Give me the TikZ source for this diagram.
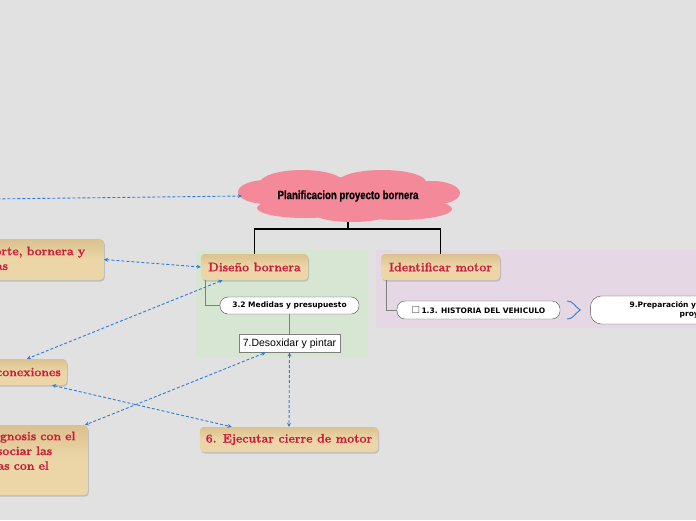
\documentclass[tikz,border=0pt]{standalone}
\usepackage{fontspec}
\usepackage{tikz}
\usetikzlibrary{shapes.geometric,arrows.meta,positioning,shadows}
\newfontfamily\topicfont{Latin Modern Roman}[BoldFeatures={FakeBold=0.8}]
\newfontfamily\cloudfont[FakeStretch=0.8,BoldFeatures={FakeBold=0.6}]{Liberation Sans}
\newfontfamily\pillfont{DejaVu Sans}
\newfontfamily\leaffont{Liberation Sans}
\definecolor{canvas}{HTML}{E1E1E1}
\definecolor{cloudpink}{HTML}{F4899A}
\definecolor{greenzone}{HTML}{D7E5D3}
\definecolor{purplezone}{HTML}{E6D7E5}
\definecolor{tanfill}{HTML}{ECD6A8}
\definecolor{tantop}{HTML}{DCC18E}
\definecolor{crimson}{HTML}{C81E3C}
\definecolor{linkblue}{HTML}{2A7DD9}
\definecolor{branchgray}{HTML}{7F7F7F}
\definecolor{pillborder}{HTML}{4D4D4D}

\begin{document}
\begin{tikzpicture}[x=1pt,y=-1pt,
  topic/.style={rounded corners=4pt,top color=tantop,bottom color=tanfill,middle color=tanfill,text=crimson,font=\topicfont\fontsize{12.3}{14.8}\selectfont\bfseries,minimum height=26pt,inner xsep=6pt,drop shadow={shadow xshift=1pt,shadow yshift=-1.5pt,opacity=.35}},
  pill/.style={draw=pillborder,fill=white,rounded corners=8pt,font=\pillfont\bfseries\fontsize{7.5}{9.5}\selectfont,minimum height=17pt,align=center},
  leaf/.style={draw=branchgray,fill=white,font=\leaffont\fontsize{10.5}{12}\selectfont,minimum height=18pt,inner sep=3pt},
  puff/.style={fill=cloudpink},
  tree/.style={line width=1.2pt,black},
  branch/.style={line width=.8pt,branchgray},
  link/.style={{Stealth[length=4pt,width=4pt]}-{Stealth[length=4pt,width=4pt]},linkblue,dash pattern=on 3pt off 2pt,line width=.9pt}]
\useasboundingbox (0,0) rectangle (696,520);
\clip (0,0) rectangle (696,520);
\fill[canvas] (0,0) rectangle (696,520);
\fill[greenzone] (196,250) rectangle (368,357);
\fill[purplezone] (376,250) rectangle (700,328);

% central topic
\fill[puff] (266,192) ellipse [x radius=28,y radius=12];
\fill[puff] (302,183) ellipse [x radius=42,y radius=13];
\fill[puff] (382,182) ellipse [x radius=44,y radius=12];
\fill[puff] (432,193) ellipse [x radius=28,y radius=12];
\fill[puff] (305,208) ellipse [x radius=48,y radius=10];
\fill[puff] (398,209) ellipse [x radius=54,y radius=11];
\fill[puff] (350,196) ellipse [x radius=96,y radius=19];
\fill[puff] (352,212) ellipse [x radius=40,y radius=10];
\node[ellipse,minimum width=220pt,minimum height=52pt,inner sep=0pt,font=\cloudfont\bfseries\fontsize{12}{14}\selectfont] (root) at (348,196) {Planificacion proyecto bornera};
\coordinate (fork) at (348,229);

% main branches
\node[topic,minimum width=107pt] (diseno) at (254.5,267) {Diseño bornera};
\node[topic,minimum width=119pt] (identificar) at (440.5,267) {Identificar motor};
\node[pill,minimum width=139pt] (medidas) at (289.5,305.5) {3.2 Medidas y presupuesto};
\node[leaf,minimum width=101pt,below=20pt of medidas] (desoxidar) {7.Desoxidar y pintar};
\node[pill,minimum width=163pt,minimum height=18pt] (historia) at (478.5,310) {{\fontsize{9.5}{9.5}\selectfont\mdseries\color{pillborder}☐}\,1.3. HISTORIA DEL VEHICULO};
\node[pill,minimum width=216pt,minimum height=28pt,rounded corners=11pt,right=30pt of historia] (preparacion) {9.Preparación y presupuesto del\\proyecto};

% floating topics
\node[topic,anchor=east,text width=126pt,align=left,inner ysep=4pt,minimum height=41pt] (soporte) at (104,259.5) {Soporte, bornera y\\piezas};
\node[topic,anchor=east] (conexiones) at (67,372) {Revisar conexiones};
\node[topic,anchor=north east,text width=103pt,align=left,inner ysep=6pt,text height=9pt,text depth=49pt] (diagnosis) at (88,425) {Diagnosis con el\\y asociar las\\fallas con el};
\node[topic,minimum width=178pt,minimum height=25pt] (ejecutar) at (289,439.5) {6. Ejecutar cierre de motor};
\coordinate (offleft) at (-10,199);

% tree
\draw[tree] (root.south) -- (fork);
\draw[tree] (diseno.north) |- (fork) -| (identificar.north);
\draw[branch] ([xshift=5pt]diseno.south west) |- (medidas.west);
\draw[branch] (medidas.south) -- (desoxidar.north);
\draw[branch] ([xshift=6pt]identificar.south west) |- (historia.west);
\coordinate (tip) at ([xshift=20pt]historia.east);
\draw[linkblue,line width=.9pt] ([xshift=7pt,yshift=9pt]historia.east) .. controls +(6pt,0pt) and +(-6pt,4pt) .. (tip) .. controls +(-6pt,-4pt) and +(6pt,0pt) .. ([xshift=7pt,yshift=-9pt]historia.east);

% relations
\draw[link] (offleft) -- ([xshift=4pt]root.west);
\draw[link] (soporte.east) -- (diseno.west);
\draw[link] ([xshift=-32pt]diseno.south) -- ([xshift=-40pt]conexiones.north east);
\draw[link] ([xshift=-24pt]desoxidar.south) -- ([xshift=-3pt]diagnosis.north east);
\draw[link] ([xshift=-15pt]conexiones.south east) -- ([xshift=32pt]ejecutar.north west);
\draw[link] (desoxidar.south) -- (ejecutar.north);
\end{tikzpicture}
\end{document}
